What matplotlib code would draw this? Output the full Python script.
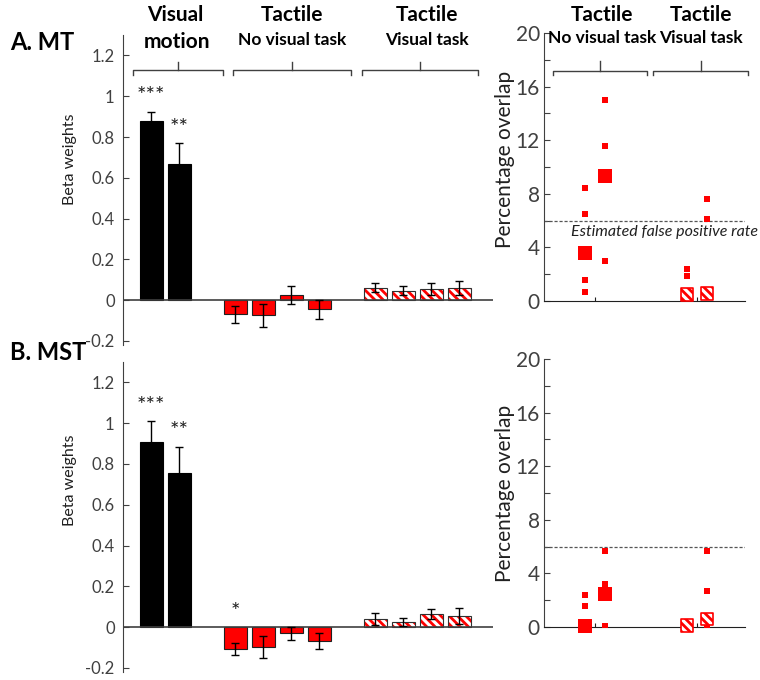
import numpy as np
import matplotlib
matplotlib.use("Agg")
import matplotlib.pyplot as plt
import matplotlib.transforms as mtransforms
from matplotlib.ticker import FuncFormatter

plt.rcParams['font.family'] = ['Lato', 'DejaVu Sans']
plt.rcParams['hatch.linewidth'] = 2.0

RED = '#ff0000'
GREY = '#404040'

# --- beta weights (left panels) ---
bar_pos = [1, 2, 4, 5, 6, 7, 9, 10, 11, 12]
bar_kind = ['black', 'black', 'red', 'red', 'red', 'red', 'hatch', 'hatch', 'hatch', 'hatch']
mt_beta = [0.88, 0.67, -0.07, -0.075, 0.024, -0.045, 0.06, 0.045, 0.055, 0.06]
mt_err = [0.045, 0.10, 0.04, 0.058, 0.043, 0.045, 0.022, 0.022, 0.028, 0.035]
mst_beta = [0.91, 0.757, -0.108, -0.098, -0.03, -0.068, 0.04, 0.026, 0.064, 0.055]
mst_err = [0.10, 0.128, 0.03, 0.055, 0.032, 0.04, 0.028, 0.02, 0.025, 0.038]
mt_stars = ['***', '**', '', '', '', '', '', '', '', '']
mst_stars = ['***', '**', '*', '', '', '', '', '', '', '']

# --- percentage overlap (right panels) ---
pt_x = [0.9, 1.1, 1.9, 2.1]
pt_hatched = [False, False, True, True]
mt_pts = [[8.4, 6.5, 1.6, 0.7], [15.0, 11.6, 3.0], [2.4, 1.9], [7.6, 6.1]]
mt_mean = [3.6, 9.3, 0.5, 0.55]
mst_pts = [[2.4, 1.6], [5.65, 3.2, 0.1], [], [5.65, 2.7, 0.15]]
mst_mean = [0.1, 2.45, 0.1, 0.6]
false_pos = 6

# headers / brackets
left_brackets = [(0.36, 3.57), (3.93, 8.14), (8.54, 12.68)]
right_brackets = [(0.59, 1.51), (1.57, 2.5)]


def bracket(ax, x0, x1, y, drop, rise):
    tr = mtransforms.blended_transform_factory(ax.transData, ax.transAxes)
    xm = (x0 + x1) / 2
    ax.plot([x0, x0, x1, x1], [y - drop, y, y, y - drop], color=GREY, lw=1,
            transform=tr, clip_on=False)
    ax.plot([xm, xm], [y, y + rise], color=GREY, lw=1, transform=tr, clip_on=False)


def beta_panel(ax, vals, errs, stars):
    for x, v, e, k in zip(bar_pos, vals, errs, bar_kind):
        if k == 'black':
            ax.bar(x, v, width=0.82, color='black', edgecolor='black', lw=0.8)
        elif k == 'red':
            ax.bar(x, v, width=0.82, color=RED, edgecolor='#202020', lw=0.8)
        else:
            ax.bar(x, v, width=0.82, color='white', edgecolor=RED, hatch='\\\\\\\\', lw=0)
            ax.bar(x, v, width=0.82, fill=False, edgecolor='#303030', lw=0.8)
    ax.errorbar(bar_pos, vals, yerr=errs, fmt='none', ecolor='black', elinewidth=1,
                capsize=3, capthick=1, zorder=5)
    for x, v, e, s in zip(bar_pos, vals, errs, stars):
        if s:
            ax.text(x, max(0, v + e) + 0.075, s, ha='center', va='center',
                    fontsize=16, color='#202020')
    ax.axhline(0, color=GREY, lw=1.2, xmax=1)
    ax.set_xlim(0, 13.2)
    ax.set_ylim(-0.22, 1.3)
    ax.set_yticks(np.arange(-0.2, 1.21, 0.2))
    ax.yaxis.set_major_formatter(FuncFormatter(lambda v, p: '%g' % round(v, 1)))
    for sp in ['top', 'right', 'bottom']:
        ax.spines[sp].set_visible(False)
    ax.spines['left'].set_color(GREY)
    ax.set_xticks([])
    ax.tick_params(axis='y', direction='in', length=4, color=GREY, labelcolor=GREY,
                   labelsize=12, pad=6)
    ax.set_ylabel('Beta weights', fontsize=11.5, color='#202020')
    ax.yaxis.set_label_coords(-0.125, 0.6)


def overlap_panel(ax, pts, means):
    for x, p, m, h in zip(pt_x, pts, means, pt_hatched):
        if p:
            ax.scatter([x] * len(p), p, marker='s', s=3.8 ** 2, color=RED, lw=0, zorder=3)
        if h:
            ax.scatter([x], [m], marker='s', s=9 ** 2, facecolor='white', edgecolor=RED,
                       hatch='\\\\\\\\', lw=1.2, zorder=4, clip_on=False)
        else:
            ax.scatter([x], [m], marker='s', s=10 ** 2, color=RED, lw=0, zorder=4,
                       clip_on=False)
    ax.axhline(false_pos, color='#555555', lw=0.9, ls=(0, (2.5, 1.5)))
    ax.set_xlim(0.5, 2.47)
    ax.set_ylim(0, 20)
    ax.set_xticks([1, 2])
    ax.set_xticklabels([])
    ax.set_yticks(np.arange(0, 21, 2))
    ax.yaxis.set_major_formatter(FuncFormatter(lambda v, p: '%d' % v if v % 4 == 0 else ''))
    for sp in ['top', 'right']:
        ax.spines[sp].set_visible(False)
    ax.spines['left'].set_color(GREY)
    ax.spines['bottom'].set_color('#202020')
    ax.tick_params(axis='y', direction='in', length=4, color=GREY, labelcolor=GREY,
                   labelsize=15, pad=3)
    ax.tick_params(axis='x', direction='in', length=3, color='#202020')
    ax.set_ylabel('Percentage overlap', fontsize=15, color='#202020')


fig = plt.figure(figsize=(7.6, 6.8), dpi=100)

ax1 = fig.add_axes([123 / 760, 0.4926, 370 / 760, 310 / 680])
beta_panel(ax1, mt_beta, mt_err, mt_stars)
for x0, x1 in left_brackets:
    bracket(ax1, x0, x1, 0.887, 0.016, 0.026)

ax2 = fig.add_axes([123 / 760, 8 / 680, 370 / 760, 310 / 680])
beta_panel(ax2, mst_beta, mst_err, mst_stars)
ax2.yaxis.set_label_coords(-0.125, 0.62)

ax3 = fig.add_axes([544 / 760, 379 / 680, 201 / 760, 268 / 680])
overlap_panel(ax3, mt_pts, mt_mean)
ax3.yaxis.set_label_coords(-0.145, 0.53)
ax3.text(1.68, 5.15, 'Estimated false positive rate', style='italic', fontsize=11.5,
         color='#202020', ha='center', va='center', clip_on=False)
for x0, x1 in right_brackets:
    bracket(ax3, x0, x1, 0.858, 0.015, 0.038)

ax4 = fig.add_axes([544 / 760, 53 / 680, 201 / 760, 268 / 680])
overlap_panel(ax4, mst_pts, mst_mean)
ax4.yaxis.set_label_coords(-0.145, 0.5)

# panel titles and headers
fig.text(10 / 760, 1 - 42 / 680, 'A. MT', fontsize=17, fontweight='bold', va='center')
fig.text(10 / 760, 1 - 352 / 680, 'B. MST', fontsize=17, fontweight='bold', va='center')

big = dict(fontsize=15, fontweight='bold', ha='center', va='center')
small = dict(fontsize=12.5, fontweight='bold', ha='center', va='center')
fig.text(175 / 760, 1 - 15 / 680, 'Visual', **big)
fig.text(177 / 760, 1 - 42 / 680, 'motion', **big)
fig.text(292 / 760, 1 - 15 / 680, 'Tactile', **big)
fig.text(292 / 760, 1 - 40 / 680, 'No visual task', **small)
fig.text(427 / 760, 1 - 15 / 680, 'Tactile', **big)
fig.text(427 / 760, 1 - 40 / 680, 'Visual task', **small)
fig.text(602 / 760, 1 - 15 / 680, 'Tactile', **big)
fig.text(602 / 760, 1 - 38 / 680, 'No visual task', **small)
fig.text(701 / 760, 1 - 15 / 680, 'Tactile', **big)
fig.text(701 / 760, 1 - 38 / 680, 'Visual task', **small)

fig.savefig('out.png', dpi=100)
